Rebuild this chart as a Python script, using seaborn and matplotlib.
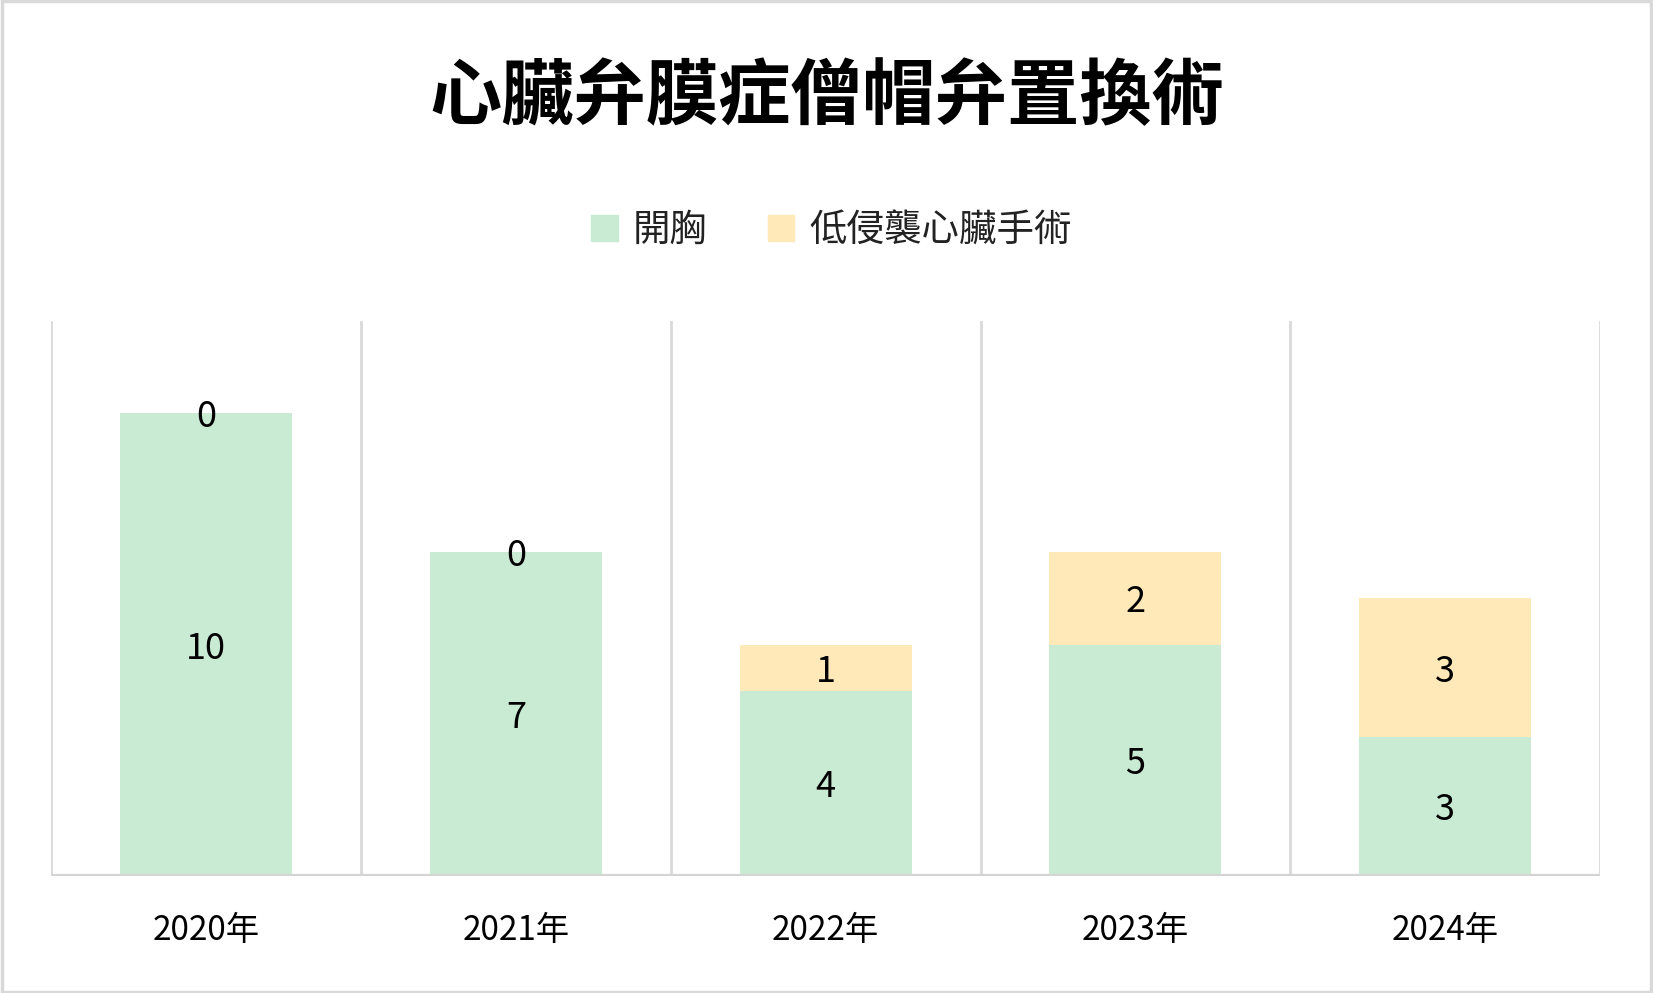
import pandas as pd
import matplotlib.pyplot as plt
import seaborn as sns
from matplotlib.patches import Patch

years = ['2020年', '2021年', '2022年', '2023年', '2024年']
open_chest = [10, 7, 4, 5, 3]
minimal = [0, 0, 1, 2, 3]

green = '#C9EBD4'
yellow = '#FFE9B8'

sns.set_style('white')
plt.rcParams['font.family'] = ['Noto Sans CJK TC', 'DejaVu Sans']

df = pd.DataFrame({'year': years, 'open': open_chest, 'mini': minimal})
df['total'] = df['open'] + df['mini']

fig = plt.figure(figsize=(16.53, 9.93), dpi=100)
ax = fig.add_axes([0.031, 0.118, 0.937, 0.559])

sns.barplot(data=df, x='year', y='total', color=yellow, width=0.555, saturation=1,
            linewidth=0, ax=ax)
sns.barplot(data=df, x='year', y='open', color=green, width=0.555, saturation=1,
            linewidth=0, ax=ax)

for i, row in df.iterrows():
    ax.text(i, row['open'] / 2, str(row['open']), ha='center', va='center_baseline',
            fontsize=26, color='black')
    ax.text(i, row['open'] + row['mini'] / 2, str(row['mini']), ha='center',
            va='center_baseline', fontsize=26, color='black')

ax.set_xlim(-0.5, len(years) - 0.5)
ax.set_ylim(0, 12)
for b in range(len(years) + 1):
    ax.axvline(b - 0.5, color='#D9D9D9', lw=2, zorder=0)
ax.axhline(0, color='#D4D4D4', lw=3)
for s in ax.spines.values():
    s.set_visible(False)
ax.set_yticks([])
ax.set_xlabel('')
ax.set_ylabel('')
ax.tick_params(axis='x', length=0, pad=27, labelsize=24, labelcolor='black')

fig.text(0.5, 0.902, '心臟弁膜症僧帽弁置換術', ha='center', va='center',
         fontsize=52, fontweight='bold', color='black')
handles = [Patch(color=green, label='開胸'), Patch(color=yellow, label='低侵襲心臟手術')]
fig.legend(handles=handles, loc='center', bbox_to_anchor=(0.503, 0.768), ncol=2,
           frameon=False, fontsize=27, handlelength=0.7, handleheight=0.7,
           handletextpad=0.4, columnspacing=1.6, labelcolor='#222222')

fig.patches.append(plt.Rectangle((0.001, 0.001), 0.998, 0.998, transform=fig.transFigure,
                                 fill=False, edgecolor='#D9D9D9', lw=2.5))

fig.savefig('out.png', dpi=100)
